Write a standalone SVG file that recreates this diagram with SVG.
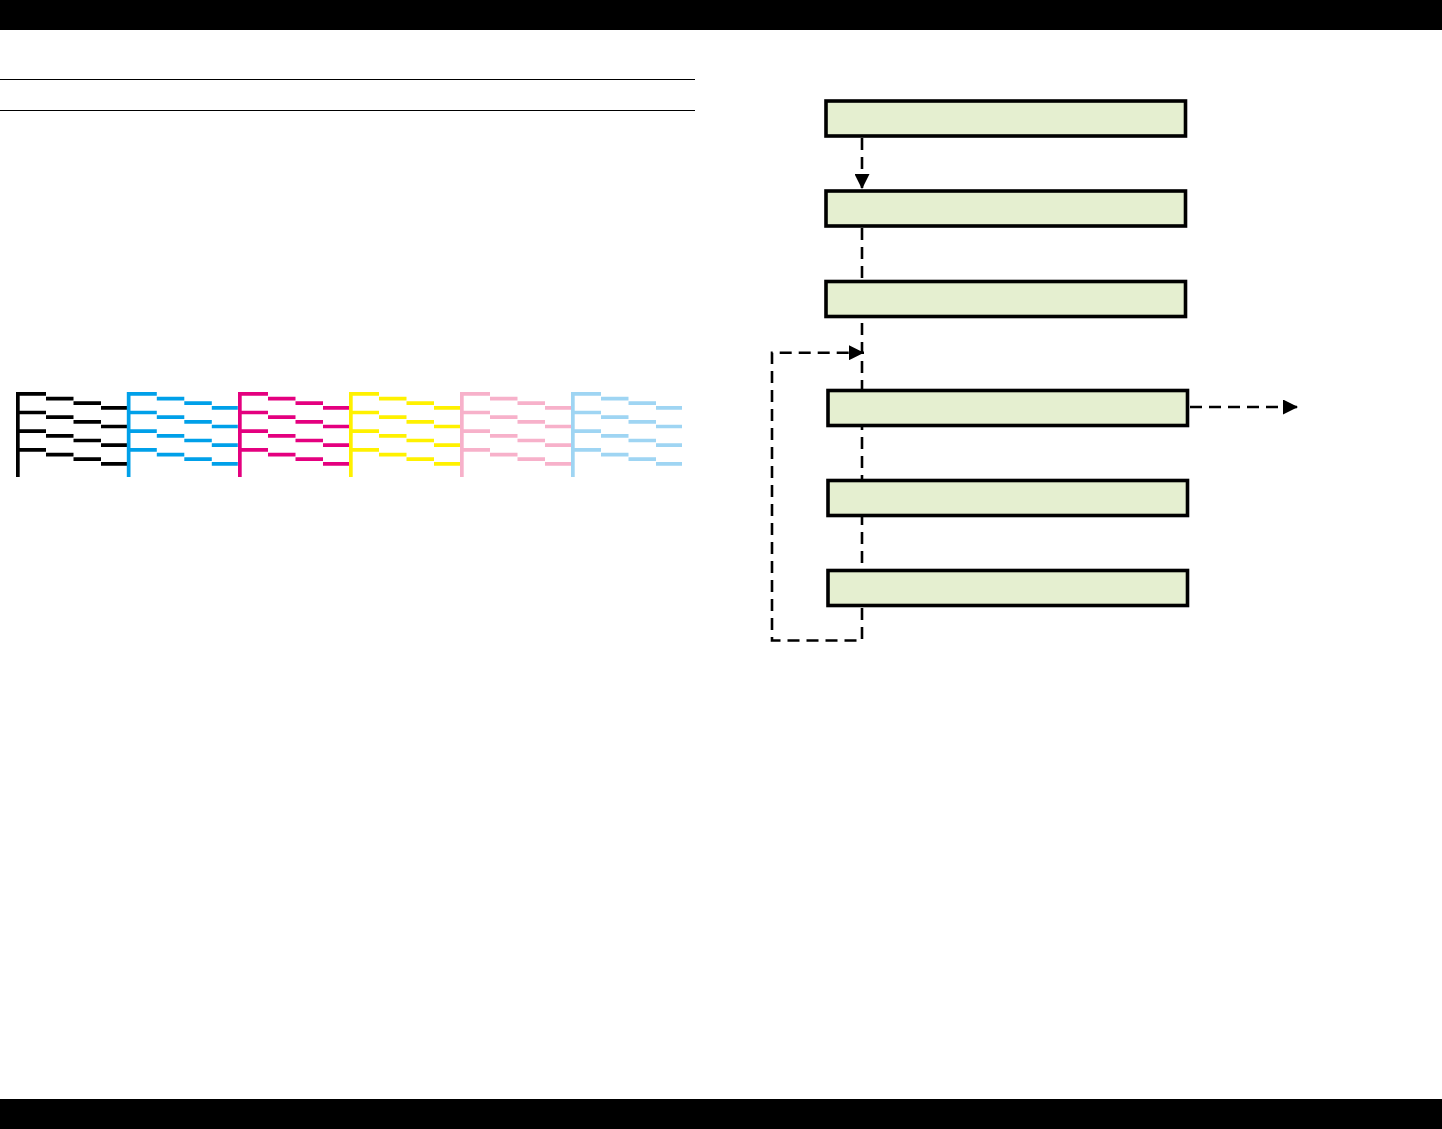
<svg xmlns="http://www.w3.org/2000/svg" xmlns:xlink="http://www.w3.org/1999/xlink" width="1442" height="1129" viewBox="0 0 1442 1129">
<style>
.bar{fill:#000}
.rule{stroke:#000;stroke-width:1.2;fill:none}
.box{fill:#e5efd0;stroke:#000;stroke-width:3.6}
.dash{fill:none;stroke:#000;stroke-width:2.6;stroke-dasharray:12 7}
.nozzle{fill:none;stroke:currentColor;stroke-width:3.7;stroke-linecap:butt}
</style>
<defs>
<marker id="arrow" viewBox="0 0 16 16" refX="16" refY="8" markerWidth="17" markerHeight="15" orient="auto" markerUnits="userSpaceOnUse">
<path d="M0 0 L16 8 L0 16 z" fill="#000"/>
</marker>
<path id="pattern" class="nozzle" d="M1.85 0 V85 M0 1.85 H30 M30 6.55 H57.5 M57.5 11.15 H85 M85 15.85 H111 M0 20.52 H30 M30 25.22 H57.5 M57.5 29.82 H85 M85 34.52 H111 M0 39.18 H30 M30 43.88 H57.5 M57.5 48.48 H85 M85 53.18 H111 M0 57.85 H30 M30 62.55 H57.5 M57.5 67.15 H85 M85 71.85 H111"/>
</defs>
<rect class="bar" x="0" y="0" width="1442" height="30"/>
<rect class="bar" x="0" y="1099" width="1442" height="30"/>
<line class="rule" x1="0" y1="79.5" x2="695" y2="79.5"/>
<line class="rule" x1="0" y1="110.5" x2="695" y2="110.5"/>
<g id="nozzle-check">
<use xlink:href="#pattern" href="#pattern" x="16" y="392" color="#000000"/>
<use xlink:href="#pattern" href="#pattern" x="126.8" y="392" color="#00a0e9"/>
<use xlink:href="#pattern" href="#pattern" x="238" y="392" color="#e4007f"/>
<use xlink:href="#pattern" href="#pattern" x="349" y="392" color="#fff100"/>
<use xlink:href="#pattern" href="#pattern" x="460" y="392" color="#f7b1ca"/>
<use xlink:href="#pattern" href="#pattern" x="571" y="392" color="#9fd5f3"/>
</g>
<g id="connectors">
<path class="dash" d="M862 138 V189" marker-end="url(#arrow)"/>
<path class="dash" d="M862 228 V640.5 H772 V352.7 H864" marker-end="url(#arrow)"/>
<path class="dash" d="M1190 407 H1298" marker-end="url(#arrow)"/>
</g>
<g id="node1"><rect class="box" x="826" y="101" width="359.5" height="35"/></g>
<g id="node2"><rect class="box" x="826" y="191" width="359.5" height="35"/></g>
<g id="node3"><rect class="box" x="826" y="281.5" width="359.5" height="35"/></g>
<g id="node4"><rect class="box" x="828" y="390.5" width="359.5" height="35"/></g>
<g id="node5"><rect class="box" x="828" y="480.5" width="359.5" height="35"/></g>
<g id="node6"><rect class="box" x="828" y="570.5" width="359.5" height="35"/></g>
</svg>
